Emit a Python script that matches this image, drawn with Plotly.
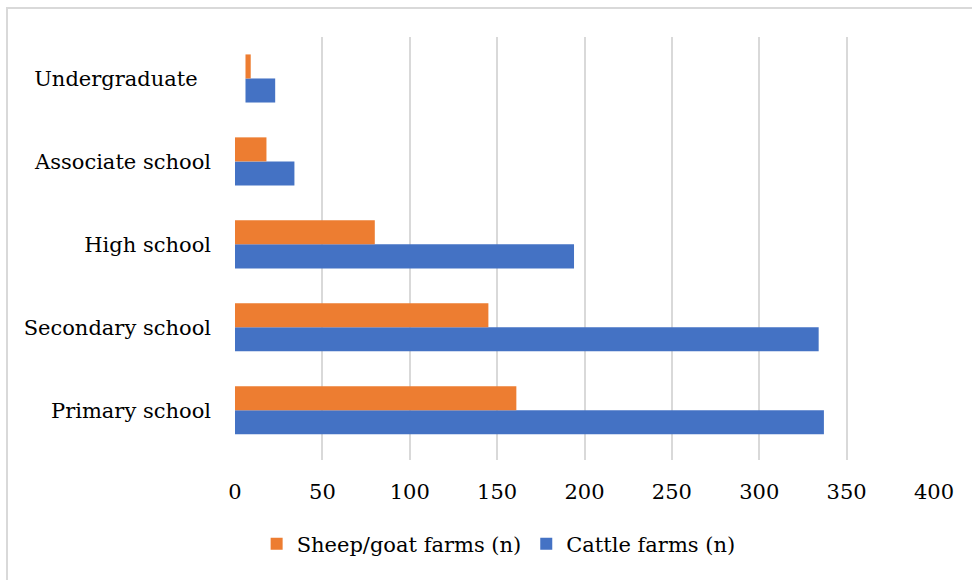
import plotly.graph_objects as go

# Education level of farm holders, bottom to top
categories = ["Primary school", "Secondary school", "High school",
              "Associate school", "Undergraduate\u00a0\u00a0"]
cattle = [337, 334, 194, 34, 17]
sheep_goat = [161, 145, 80, 18, 3]
bar_start = [0, 0, 0, 0, 6]

x_ticks = [0, 50, 100, 150, 200, 250, 300, 350, 400]

BLUE = "#4472C4"
ORANGE = "#ED7D31"
GRID = "#D9D9D9"
FONT = "DejaVu Serif"
SIZE = 21

fig = go.Figure()
fig.add_trace(go.Bar(
    y=categories, x=cattle, base=bar_start, orientation="h",
    name="Cattle farms (n)", marker=dict(color=BLUE, line=dict(width=0)),
))
fig.add_trace(go.Bar(
    y=categories, x=sheep_goat, base=bar_start, orientation="h",
    name="Sheep/goat farms (n)", marker=dict(color=ORANGE, line=dict(width=0)),
))

fig.update_layout(
    width=972, height=580,
    margin=dict(l=235, r=38, t=37, b=120),
    paper_bgcolor="white", plot_bgcolor="white",
    barmode="group", bargap=0.42, bargroupgap=0,
    font=dict(family=FONT, size=SIZE, color="#000000"),
    xaxis=dict(
        range=[0, 400], tickvals=x_ticks, ticktext=[str(v) for v in x_ticks],
        showgrid=True, gridcolor=GRID, gridwidth=2,
        zeroline=False, showline=False, ticks="",
        tickfont=dict(family=FONT, size=SIZE), ticklabelstandoff=17,
        fixedrange=True,
    ),
    yaxis=dict(
        range=[-0.6, 4.5],
        showgrid=False, showline=False, ticks="", zeroline=False,
        tickfont=dict(family=FONT, size=SIZE), ticklabelstandoff=23,
        fixedrange=True,
    ),
    legend=dict(
        orientation="h", traceorder="reversed",
        x=0.513, xref="container", xanchor="center",
        y=0.062, yref="container", yanchor="middle",
        font=dict(family=FONT, size=SIZE), itemwidth=30,
    ),
    showlegend=True,
)

# light frame around the chart area (top and left edges fall inside the page)
fig.add_shape(
    type="rect", xref="paper", yref="paper",
    x0=(7 - 235) / 699, x1=(990 - 235) / 699,
    y0=(460 - 600) / 423, y1=(460 - 8) / 423,
    line=dict(color=GRID, width=2), fillcolor="rgba(0,0,0,0)", layer="below",
)

fig.write_html("out.html")
